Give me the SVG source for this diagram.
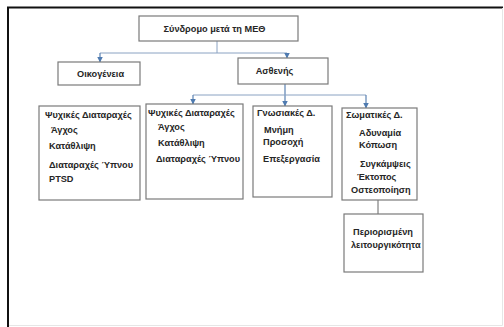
<svg xmlns="http://www.w3.org/2000/svg" width="504" height="327" viewBox="0 0 504 327">
<defs>
<marker id="arr" viewBox="0 0 6 6" refX="5.5" refY="3" markerWidth="6" markerHeight="6" markerUnits="userSpaceOnUse" orient="auto">
<path d="M0,0 L6,3 L0,6 Z" fill="#4f7bb0"/>
</marker>
<style>
.box{fill:#fff;stroke:#7a7a7a;stroke-width:1.2}
.t{font-family:"Liberation Sans",Arial,sans-serif;font-weight:bold;font-size:9.2px;fill:#262626}
.c{fill:none;stroke:#8aa2c2;stroke-width:1}
.a{fill:none;stroke:#5b82b3;stroke-width:1.2;marker-end:url(#arr)}
</style>
</defs>
<rect x="0" y="0" width="504" height="327" fill="#fff"/>
<g id="frame">
<path d="M8,327 V7.5 H503" fill="none" stroke="#111" stroke-width="2"/>
<path d="M502.5,8 V325.5 H9" fill="none" stroke="#e6e6e6" stroke-width="1"/>
</g>
<g id="connectors">
<line class="c" x1="217" y1="41" x2="217" y2="53" stroke="#c8c8c8"/>
<line class="c" x1="100" y1="53" x2="287" y2="53"/>
<line class="a" x1="100" y1="53" x2="100" y2="62"/>
<line class="a" x1="287" y1="53" x2="287" y2="58"/>
<line class="a" x1="285" y1="84" x2="285" y2="106"/>
<line class="c" x1="193" y1="95" x2="366" y2="95"/>
<line class="a" x1="193" y1="95" x2="193" y2="104"/>
<line class="a" x1="366" y1="95" x2="366" y2="108"/>
<line x1="378" y1="200" x2="378" y2="214" stroke="#666" stroke-width="1"/>
</g>
<g id="n-syndromo">
<rect class="box" x="139" y="16" width="159" height="25"/>
<text class="t" x="214.5" y="31.5" text-anchor="middle">Σύνδρομο μετά τη ΜΕΘ</text>
</g>
<g id="n-oikogeneia">
<rect class="box" x="58" y="62" width="82" height="23"/>
<text class="t" x="77" y="77">Οικογένεια</text>
</g>
<g id="n-asthenis">
<rect class="box" x="238" y="58" width="90" height="26"/>
<text class="t" x="274.5" y="74" text-anchor="middle">Ασθενής</text>
</g>
<g id="n-psyx1">
<rect class="box" x="39" y="106" width="101" height="94"/>
<text class="t" x="45" y="118">Ψυχικές Διαταραχές</text>
<text class="t" x="51" y="133">Άγχος</text>
<text class="t" x="49" y="149">Κατάθλιψη</text>
<text class="t" x="49" y="168">Διαταραχές Ύπνου</text>
<text class="t" x="49" y="182">PTSD</text>
</g>
<g id="n-psyx2">
<rect class="box" x="146" y="104" width="97" height="95"/>
<text class="t" x="148" y="116">Ψυχικές Διαταραχές</text>
<text class="t" x="158" y="130">Άγχος</text>
<text class="t" x="158" y="146">Κατάθλιψη</text>
<text class="t" x="156" y="162">Διαταραχές Ύπνου</text>
</g>
<g id="n-gnosiakes">
<rect class="box" x="253" y="106" width="79" height="91"/>
<text class="t" x="257" y="116">Γνωσιακές Δ.</text>
<text class="t" x="264" y="133">Μνήμη</text>
<text class="t" x="263" y="145">Προσοχή</text>
<text class="t" x="263" y="162">Επεξεργασία</text>
</g>
<g id="n-somatikes">
<rect class="box" x="342" y="108" width="75" height="92"/>
<text class="t" x="346" y="118">Σωματικές Δ.</text>
<text class="t" x="359" y="136">Αδυναμία</text>
<text class="t" x="359" y="148">Κόπωση</text>
<text class="t" x="360" y="167">Συγκάμψεις</text>
<text class="t" x="357" y="180">Έκτοπος</text>
<text class="t" x="351" y="193">Οστεοποίηση</text>
</g>
<g id="n-periorismeni">
<rect class="box" x="344" y="214" width="79" height="58"/>
<text class="t" x="353" y="235">Περιορισμένη</text>
<text class="t" x="351" y="248">λειτουργικότητα</text>
</g>
</svg>
